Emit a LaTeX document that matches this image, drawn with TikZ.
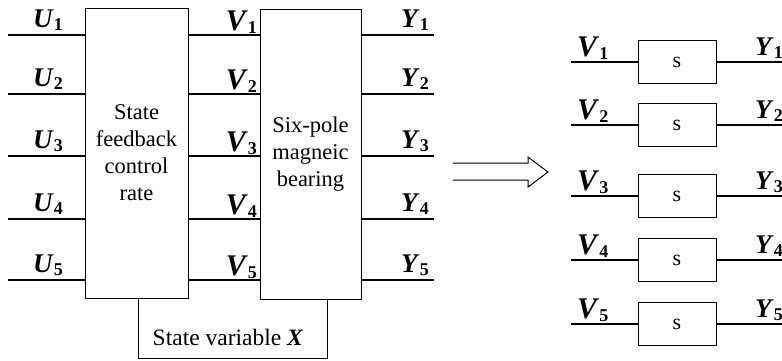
\documentclass[tikz,border=0pt]{standalone}
\usepackage{fontspec}
\setmainfont{Liberation Serif}
\usetikzlibrary{positioning}

\newcommand{\siglab}[2]{\textbf{\textit{#1}}\raisebox{-3pt}{\fontsize{18}{18}\selectfont\textbf{#2}}}

\tikzset{
  block/.style={draw, line width=1pt, inner sep=0pt, outer sep=0pt, align=center,
    font=\fontsize{22.5}{27}\selectfont},
  sblock/.style={draw, line width=1pt, inner sep=0pt, outer sep=0pt,
    minimum width=78pt, minimum height=43pt, font=\fontsize{22}{22}\selectfont},
  wire/.style={line width=1.3pt},
  lab/.style={inner sep=0pt, anchor=base west, font=\fontsize{27}{27}\selectfont},
  vlab/.style={lab, font=\fontsize{30}{30}\selectfont}
}

\begin{document}
\begin{tikzpicture}[x=1pt,y=-1pt]
\useasboundingbox (0,0) rectangle (782,360);
% Control law and bearing blocks
\node[block, minimum width=103pt, minimum height=290pt] (ctrl) at (136.5,153) {State\\feedback\\control\\rate};
\node[block, minimum width=101pt, minimum height=290pt] (smb) at (310.5,154) {Six-pole\\magneic\\bearing};
% Feedback of the state variable
\draw[line width=1pt] ([xshift=53pt]ctrl.south west) -- ++(0,60) -| ([xshift=-34pt]smb.south east);
\node[font=\fontsize{23.5}{23.5}\selectfont] (xvar) at (228,337) {State variable \textbf{\textit{X}}};
% Inputs, coupled signals and outputs
\foreach \i/\y in {1/35,2/94,3/156,4/219,5/280}{
  \coordinate (u\i) at (8,\y);
  \coordinate (y\i) at (434,\y);
  \draw[wire] (u\i) -- (ctrl.west |- u\i);
  \draw[wire] (ctrl.east |- u\i) -- (smb.west |- u\i);
  \draw[wire] (smb.east |- y\i) -- (y\i);
  \node[lab] (lu\i) at (33,\y-8) {\siglab{U}{\i}};
  \node[vlab, anchor=base east] (lm\i) at (257,\y-5) {\siglab{V}{\i}};
  \node[lab] (ly\i) at (401,\y-8) {\siglab{Y}{\i}};
}
% Decoupling arrow
\draw[line width=1pt] (453,163) -- (528,163) -- (528,157) -- (548,172) -- (528,187) -- (528,180) -- (453,180);
% Decoupled channels
\foreach \i/\y in {1/62,2/125,3/196,4/260,5/324}{
  \node[sblock] (s\i) at (677,\y) {s};
  \coordinate (v\i) at (571,\y);
  \coordinate (o\i) at (782,\y);
  \draw[wire] (v\i) -- (s\i);
  \draw[wire] (s\i) -- (o\i);
  \node[vlab] (lv\i) at (577,\y-6) {\siglab{V}{\i}};
  \node[lab] (lo\i) at (755,\y-7) {\siglab{Y}{\i}};
}
\end{tikzpicture}
\end{document}
